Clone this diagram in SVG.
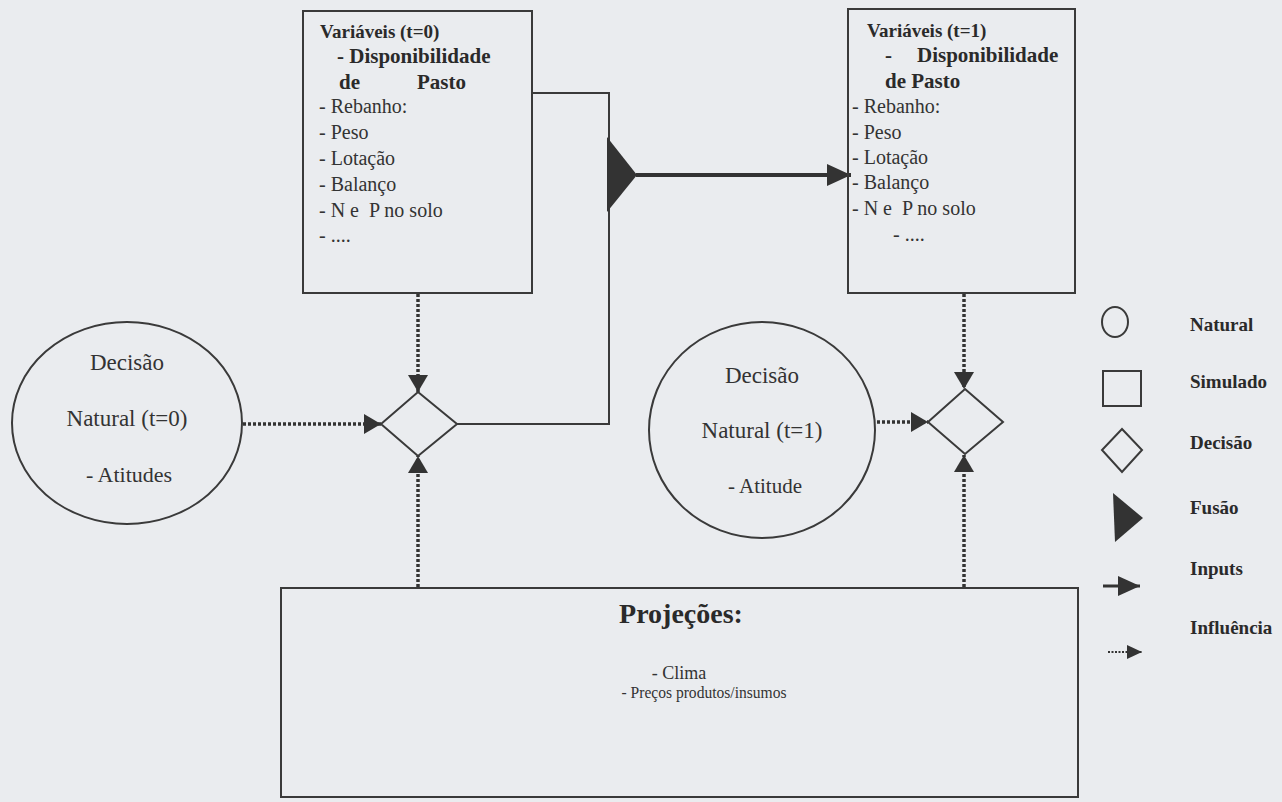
<svg xmlns="http://www.w3.org/2000/svg" width="1282" height="802" viewBox="0 0 1282 802">
<style>
  .shape{fill:none;stroke:#3a3a3a;stroke-width:2}
  .t{font-family:"Liberation Serif","Times New Roman",serif;fill:#333}
  .b{font-weight:bold;fill:#2a2a2a}
  .list{font-size:20px}
  .title{font-size:19px}
  .big{font-size:21px}
  .circ{font-size:23px;text-anchor:middle}
  .leg{font-size:19px;font-weight:bold;fill:#2a2a2a}
  .dot{fill:none;stroke:#333;stroke-width:3.5;stroke-dasharray:3 2}
  .solid{fill:none;stroke:#3a3a3a;stroke-width:2}
  .fill{fill:#333;stroke:none}
</style>
<defs>
  <marker id="inf" viewBox="0 0 17 20" markerWidth="17" markerHeight="20" refX="17" refY="10" orient="auto" markerUnits="userSpaceOnUse">
    <path d="M0,0 L17,10 L0,20 z" fill="#333"/>
  </marker>
  <marker id="inp" viewBox="0 0 24 22" markerWidth="24" markerHeight="22" refX="24" refY="11" orient="auto" markerUnits="userSpaceOnUse">
    <path d="M0,0 L24,11 L0,22 z" fill="#333"/>
  </marker>
  <marker id="infS" viewBox="0 0 15 14" markerWidth="15" markerHeight="14" refX="15" refY="7" orient="auto" markerUnits="userSpaceOnUse">
    <path d="M0,0 L15,7 L0,14 z" fill="#333"/>
  </marker>
  <marker id="inpS" viewBox="0 0 22 20" markerWidth="22" markerHeight="20" refX="22" refY="10" orient="auto" markerUnits="userSpaceOnUse">
    <path d="M0,0 L22,10 L0,20 z" fill="#333"/>
  </marker>
</defs>
<rect x="0" y="0" width="1282" height="802" fill="#eaecef"/>

<g id="connectors">
  <polyline class="solid" points="531,93 609,93 609,424 457,424"/>
  <polygon class="fill" points="607,137 637,175 607,212"/>
  <line x1="636" y1="175" x2="851" y2="175" stroke="#333" stroke-width="4" marker-end="url(#inp)"/>
  <line class="dot" x1="418" y1="294" x2="418" y2="392" marker-end="url(#inf)"/>
  <line class="dot" x1="243" y1="424" x2="381" y2="424" marker-end="url(#inf)"/>
  <line class="dot" x1="418" y1="587" x2="418" y2="456" marker-end="url(#inf)"/>
  <line class="dot" x1="964" y1="294" x2="964" y2="389" marker-end="url(#inf)"/>
  <line class="dot" x1="877" y1="422" x2="928" y2="422" marker-end="url(#inf)"/>
  <line class="dot" x1="964" y1="587" x2="964" y2="455" marker-end="url(#inf)"/>
</g>

<g id="var-t0">
  <rect class="shape" x="303" y="11" width="229" height="282"/>
  <text class="t b title" x="320" y="38">Variáveis (t=0)</text>
  <text class="t b big" x="337" y="63">- Disponibilidade</text>
  <text class="t b big" y="89"><tspan x="339">de</tspan><tspan x="417">Pasto</tspan></text>
  <text class="t list" x="319" y="113">- Rebanho:</text>
  <text class="t list" x="319" y="139">- Peso</text>
  <text class="t list" x="319" y="165">- Lotação</text>
  <text class="t list" x="319" y="191">- Balanço</text>
  <text class="t list" x="319" y="217" xml:space="preserve">- N e  P no solo</text>
  <text class="t list" x="319" y="242">- ....</text>
</g>

<g id="var-t1">
  <rect class="shape" x="848" y="9" width="227" height="284"/>
  <text class="t b title" x="867" y="37">Variáveis (t=1)</text>
  <text class="t b big" y="62"><tspan x="885">-</tspan><tspan x="917">Disponibilidade</tspan></text>
  <text class="t b big" x="885" y="88">de Pasto</text>
  <text class="t list" x="852" y="113">- Rebanho:</text>
  <text class="t list" x="852" y="139">- Peso</text>
  <text class="t list" x="852" y="164">- Lotação</text>
  <text class="t list" x="852" y="189">- Balanço</text>
  <text class="t list" x="852" y="215" xml:space="preserve">- N e  P no solo</text>
  <text class="t list" x="893" y="241">- ....</text>
</g>

<g id="natural-t0">
  <ellipse class="shape" cx="127" cy="423" rx="115" ry="101"/>
  <text class="t circ" x="127" y="370">Decisão</text>
  <text class="t circ" x="127" y="426">Natural (t=0)</text>
  <text class="t circ" x="129" y="482" style="font-size:22px">- Atitudes</text>
</g>

<g id="decision-t0">
  <polygon class="shape" points="418,392 457,424 418,456 381,424"/>
</g>

<g id="natural-t1">
  <ellipse class="shape" cx="762" cy="430" rx="113" ry="108"/>
  <text class="t circ" x="762" y="383">Decisão</text>
  <text class="t circ" x="762" y="438">Natural (t=1)</text>
  <text class="t circ" x="765" y="493" style="font-size:21px">- Atitude</text>
</g>

<g id="decision-t1">
  <polygon class="shape" points="965,389 1003,422 965,454 928,422"/>
</g>

<g id="projecoes">
  <rect class="shape" x="281" y="588" width="797" height="209"/>
  <text class="t b" x="681" y="623" text-anchor="middle" style="font-size:28px">Projeções:</text>
  <text class="t" x="679" y="679" text-anchor="middle" style="font-size:18px">- Clima</text>
  <text class="t" x="704" y="698" text-anchor="middle" style="font-size:17px" textLength="165" lengthAdjust="spacingAndGlyphs">- Preços produtos/insumos</text>
</g>

<g id="legend">
  <ellipse class="shape" cx="1115" cy="322" rx="13" ry="15"/>
  <text class="t leg" x="1190" y="331">Natural</text>
  <rect class="shape" x="1103" y="371" width="38" height="35"/>
  <text class="t leg" x="1190" y="388">Simulado</text>
  <polygon class="shape" points="1122,429 1142,450 1122,472 1102,450"/>
  <text class="t leg" x="1190" y="449">Decisão</text>
  <polygon class="fill" points="1113,493 1143,518 1115,542"/>
  <text class="t leg" x="1190" y="514">Fusão</text>
  <line x1="1103" y1="586" x2="1140" y2="586" stroke="#333" stroke-width="3" marker-end="url(#inpS)"/>
  <text class="t leg" x="1190" y="575">Inputs</text>
  <line x1="1108" y1="652" x2="1142" y2="652" stroke="#333" stroke-width="2" stroke-dasharray="2 1.5" marker-end="url(#infS)"/>
  <text class="t leg" x="1190" y="634">Influência</text>
</g>
</svg>
